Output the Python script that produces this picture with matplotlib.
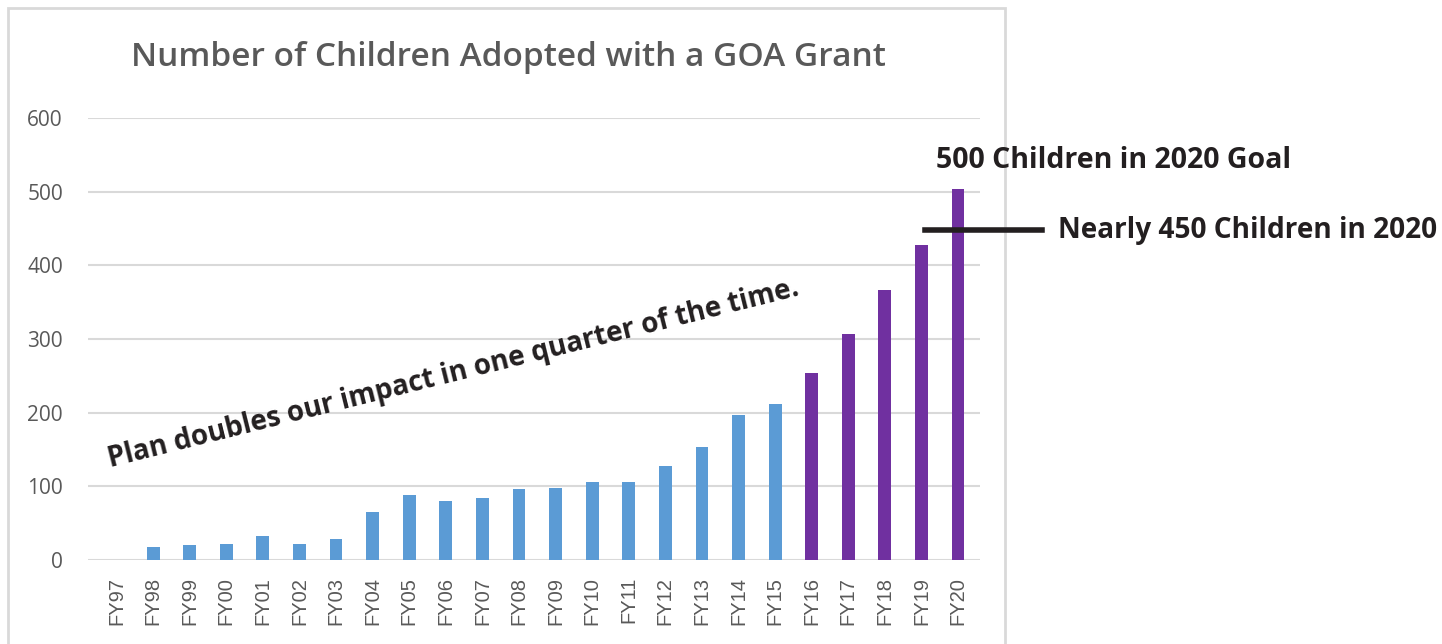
import matplotlib.pyplot as plt
from matplotlib.patches import Rectangle

# Data
years = ["FY97", "FY98", "FY99", "FY00", "FY01", "FY02", "FY03", "FY04", "FY05", "FY06",
         "FY07", "FY08", "FY09", "FY10", "FY11", "FY12", "FY13", "FY14", "FY15",
         "FY16", "FY17", "FY18", "FY19", "FY20"]
children = [0, 18, 20, 22, 32, 22, 28, 65, 88, 80,
            84, 96, 98, 106, 106, 127, 154, 197, 212,
            254, 307, 366, 427, 504]
n_actual = 19  # FY97..FY15 are actual, the rest are the plan
goal_now = 448

blue = '#5B9BD5'
purple = '#7030A0'
grey_text = '#595959'
grid_col = '#D9D9D9'
dark = '#231F20'

fig = plt.figure(figsize=(14.42, 6.44), dpi=100)
ax = fig.add_axes([88 / 1442, 1 - 560 / 644, (980 - 88) / 1442, (560 - 118) / 644])

colors = [blue if i < n_actual else purple for i in range(len(years))]
ax.bar(range(len(years)), children, width=0.35, color=colors, zorder=3)

ax.set_xlim(-0.78, 23.6)
ax.set_ylim(0, 600)
ax.set_yticks(range(0, 601, 100))
ax.yaxis.grid(True, color=grid_col, linewidth=1.5, zorder=0)
ax.set_xticks(range(len(years)))
ax.set_xticklabels(years, rotation=90, family='Liberation Sans', fontsize=14.5, color=grey_text)
for lbl in ax.get_yticklabels():
    lbl.set_family('Open Sans')
    lbl.set_fontsize(15)
    lbl.set_color(grey_text)
ax.tick_params(axis='both', length=0)
ax.tick_params(axis='x', pad=12)
ax.tick_params(axis='y', pad=18)
for s in ax.spines.values():
    s.set_visible(False)

# title
fig.text(508 / 1442, 1 - 58 / 644, 'Number of Children Adopted with a GOA Grant',
         ha='center', va='center', fontsize=24, color=grey_text,
         family='Open Sans', weight='semibold')

# chart border, kept under everything else
fig.patches.append(Rectangle((8 / 1442, -0.05), (1005 - 8) / 1442, 1.05 - 8 / 644,
                             transform=fig.transFigure, fill=False,
                             edgecolor=grid_col, linewidth=2, zorder=-1))

# annotations
ax.text(9.2, 252, 'Plan doubles our impact in one quarter of the time.',
        rotation=14, rotation_mode='anchor', ha='center', va='center',
        fontsize=20, weight='bold', family='Open Sans', color=dark)
ax.plot([22.1, 25.3], [goal_now, goal_now], color=dark, linewidth=4,
        clip_on=False, zorder=4)
fig.text(1058 / 1442, 1 - 230 / 644, 'Nearly 450 Children in 2020',
         ha='left', va='center', fontsize=20.2, weight='bold',
         family='Open Sans', color=dark)
fig.text(1114 / 1442, 1 - 161 / 644, '500 Children in 2020 Goal',
         ha='center', va='center', fontsize=20.5, weight='bold',
         family='Open Sans', color=dark)

plt.savefig('out.png', dpi=100)
